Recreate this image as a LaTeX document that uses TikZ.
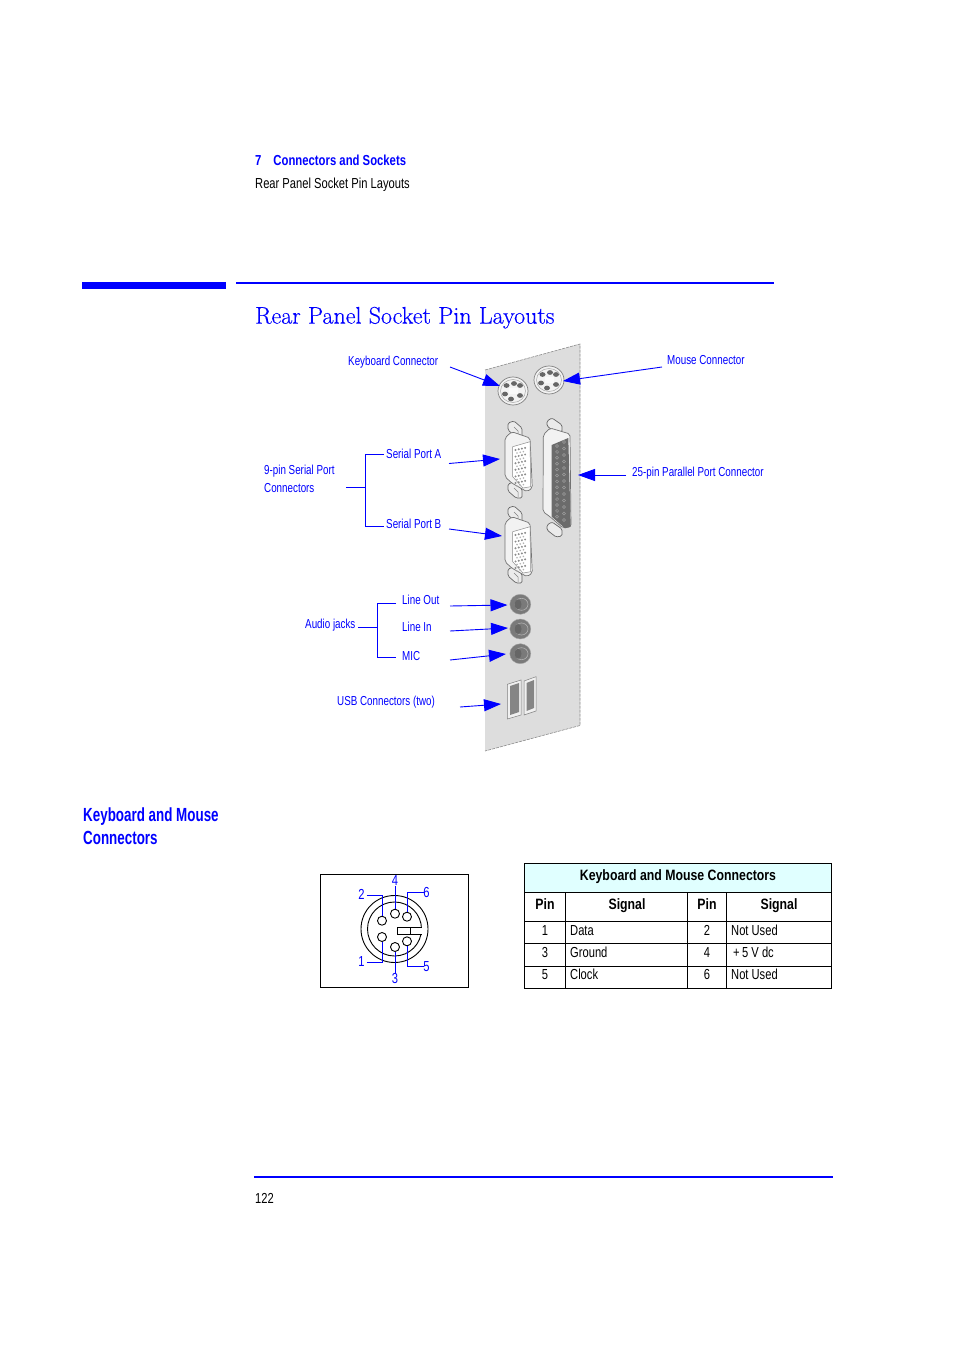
\documentclass[tikz,border=0pt]{standalone}
\usepackage{fontspec}
\setmainfont[FakeStretch=0.77]{Liberation Sans}
\newfontfamily\lblfont[FakeStretch=0.755]{Liberation Sans}
\newfontfamily\hdfont[FakeStretch=0.78]{Liberation Sans}
\newfontfamily\thfont[FakeStretch=0.82]{Liberation Sans}
\newfontfamily\secfont[FakeStretch=0.705]{Liberation Sans}
\newfontfamily\titlefont[FakeBold=0.35]{Latin Modern Roman}
\usetikzlibrary{arrows.meta,calc}
\definecolor{hpblue}{RGB}{0,0,255}
\definecolor{panelgray}{RGB}{221,221,221}
\definecolor{hdrcyan}{RGB}{224,255,255}
\tikzset{
  x=1pt,y=-1pt,
  fixh/.style={text height=0.72em,text depth=0.2em},
  lbl/.style={fixh,yshift=-1.6pt,anchor=west,inner sep=0pt,text=hpblue,font=\lblfont\fontsize{13}{15}\selectfont},
  body/.style={fixh,yshift=-2.8pt,anchor=west,inner sep=0pt,text=black,font=\fontsize{14.5}{17}\selectfont},
  tcell/.style={fixh,yshift=-2.5pt,anchor=center,inner sep=0pt,text=black,font=\fontsize{14.5}{17}\selectfont},
  tleft/.style={fixh,yshift=-2.5pt,anchor=west,inner sep=0pt,text=black,font=\fontsize{14.5}{17}\selectfont},
  thead/.style={fixh,yshift=-2.5pt,anchor=center,inner sep=0pt,text=black,font=\thfont\fontsize{15}{17}\selectfont\bfseries},
  blu/.style={draw=hpblue,line width=0.9pt},
  arr/.style={draw=hpblue,line width=0.9pt,-{Triangle[length=17pt,width=12pt,fill=hpblue]}},
  ruleline/.style={draw=black,line width=0.9pt},
  pinhole/.style={draw=black,line width=0.9pt,fill=white},
  pinno/.style={inner sep=0pt,text=hpblue,font=\fontsize{14.5}{17}\selectfont},
  sechead/.style={fixh,yshift=-4pt,anchor=west,inner sep=0pt,text=hpblue,font=\secfont\fontsize{19}{23}\selectfont\bfseries},
}
\begin{document}
\begin{tikzpicture}
\useasboundingbox (0,0) rectangle (954,1351);
\fill[white] (0,0) rectangle (954,1351);
% header
\node[body,text=hpblue,font=\hdfont\fontsize{14.5}{17}\selectfont\bfseries] (hdrA) at (255,160) {7\hspace{12pt}Connectors and Sockets};
\node[body] (hdrB) at (255,183) {Rear Panel Socket Pin Layouts};
\fill[hpblue] (82,282) rectangle (226,289);
\fill[hpblue] (236,282) rectangle (774,284);
\node[fixh,yshift=-5pt,anchor=west,inner sep=0pt,text=hpblue,font=\titlefont\fontsize{24}{28}\selectfont] (title) at (255,316) {Rear Panel Socket Pin Layouts};
% panel
\fill[panelgray] (485,370) -- (580,344) -- (580,725.5) -- (485,751) -- cycle;
\draw[black!45,line width=0.6pt,dash pattern=on 3pt off 1pt] (485,370) -- (580,344) -- (580,725.5) -- (485,751);
% PS/2 sockets
\foreach \cx/\cy in {513/391,549/380}{
  \begin{scope}[shift={(\cx,\cy)}]
    \fill[white!90!gray,draw=black!50,line width=0.7pt] (0,0) ellipse (15 and 14);
    \draw[black!35,line width=0.5pt] (0,0) ellipse (12.5 and 11.5);
    \foreach \a/\b in {-6.5/-5.5,1/-7.5,7/-5.5,-8/3,-2/8,7/4.5}{\fill[black!60] (\a,\b) ellipse (3 and 2.4);}
    \fill[white!95!gray] (-4.5,-3) rectangle (5,3);
  \end{scope}}
% serial
\foreach \dy in {0,85}{
  \begin{scope}[shift={(0,\dy)}]
    \foreach \sy in {0,61}{
      \draw[fill=black!8,draw=black!60,line width=0.7pt,rounded corners=1.5pt] (508,423+\sy) -- (514,421+\sy) -- (522,428+\sy) -- (522,437+\sy) -- (516,437+\sy) -- (508,430+\sy) -- cycle;
      \draw[black!50,line width=0.5pt] (514,427+\sy) -- (518,431+\sy) -- (518,436+\sy);}
    \draw[fill=black!5,draw=black!55,line width=0.7pt,rounded corners=2pt] (505,438) -- (511.7,431.7) -- (530,438) -- (532.3,488) -- (527,491.7) -- (511.7,483) -- (505,476.7) -- cycle;
    \draw[fill=white,draw=black!45,line width=0.5pt] (512.7,446.7) -- (530,441.7) -- (530.7,486.7) -- (523,488) -- (512.7,476.7) -- cycle;
    \foreach \i in {0,...,5}{
      \foreach \j in {0,1,2,3}{\fill[black!45] (515.5+3.2*\j,450+6.6*\i-0.7*\j) circle (1.1);}
      \foreach \j in {0,1,2}{\fill[black!30] (517+3.2*\j,453+6.6*\i-0.7*\j) circle (0.9);}}
  \end{scope}}
% parallel
\foreach \sy in {0,104}{
  \draw[fill=black!8,draw=black!60,line width=0.7pt,rounded corners=1.5pt] (547,421+\sy) -- (552,418+\sy) -- (562,425+\sy) -- (562,432+\sy) -- (556,433+\sy) -- (547,426+\sy) -- cycle;}
\draw[fill=black!5,draw=black!55,line width=0.7pt,rounded corners=2pt] (543.3,435) -- (550,428) -- (570,434) -- (571,526.7) -- (563,528) -- (550,516.7) -- (543,511.7) -- cycle;
\fill[black!58] (551.7,445) -- (568.3,438) -- (570.7,526.7) -- (565,528.3) -- (551.7,516.7) -- cycle;
\foreach \i in {0,...,12}{
  \draw[black!38,line width=0.5pt] (557,446+5.9*\i) circle (1.5);
  \draw[black!38,line width=0.5pt] (564,442+6.5*\i) circle (1.5);}
% jacks
\foreach \jy in {604.3,629,653.7}{
  \fill[black!52,draw=black!35,line width=0.4pt] (520.3,\jy) ellipse (10.5 and 10);
  \draw[black!30,line width=0.6pt] (521.5,\jy) ellipse (6.5 and 6);
  \fill[black!60] (518,\jy) ellipse (3.5 and 5);}
% usb
\draw[fill=black!6,draw=black!50,line width=0.5pt] (507.3,684.3) -- (521,680) -- (521,715) -- (507.3,719) -- cycle;
\fill[black!48] (510,686) -- (519,683) -- (519,712) -- (510,715) -- cycle;
\draw[fill=black!6,draw=black!50,line width=0.5pt] (524,681) -- (536,676.7) -- (536,711) -- (524,715) -- cycle;
\fill[black!48] (526.5,683) -- (534,680) -- (534,708) -- (526.5,711) -- cycle;
% labels
\node[lbl] (kbd) at (348,361) {Keyboard Connector};
\node[lbl] (mouse) at (667,360) {Mouse Connector};
\node[lbl] (ninea) at (264,470) {9-pin Serial Port};
\node[lbl] (nineb) at (264,488) {Connectors};
\node[lbl] (sera) at (386,454) {Serial Port A};
\node[lbl] (serb) at (386,524) {Serial Port B};
\node[lbl] (par) at (632,472) {25-pin Parallel Port Connector};
\node[lbl] (lo) at (402,600) {Line Out};
\node[lbl] (li) at (402,627) {Line In};
\node[lbl] (mic) at (402,656) {MIC};
\node[lbl] (audio) at (305,624) {Audio jacks};
\node[lbl] (usb) at (337,701) {USB Connectors (two)};
% arrows
\coordinate (k1) at (450,367); \coordinate (k2) at (500,386);
\coordinate (m1) at (662,367); \coordinate (m2) at (563,381);
\coordinate (a1) at (449,463.5); \coordinate (a2) at (500,459);
\coordinate (b1) at (449,529); \coordinate (b2) at (502,536);
\coordinate (p1) at (626,475); \coordinate (p2) at (578,475);
\coordinate (o1) at (450,606); \coordinate (o2) at (507.5,605);
\coordinate (i1) at (450,631); \coordinate (i2) at (508,628);
\coordinate (c1) at (450,660); \coordinate (c2) at (506,654);
\coordinate (u1) at (460,707); \coordinate (u2) at (501,704);
\foreach \s/\e in {k1/k2,m1/m2,a1/a2,b1/b2,p1/p2,o1/o2,i1/i2,c1/c2,u1/u2}{\draw[arr] (\s) -- (\e);}
% brackets
\coordinate (bn) at (346,487); \coordinate (bj) at (365,487);
\coordinate (bb) at (365,526); \coordinate (bt) at (384,454); \coordinate (be) at (384,526);
\draw[blu] (bn) -- (bj);
\draw[blu] (bt) -| (bb) -- (be);
\coordinate (an) at (358,627); \coordinate (aj) at (377,627);
\coordinate (ab) at (377,657); \coordinate (at) at (396,603); \coordinate (ae) at (396,657);
\draw[blu] (an) -- (aj);
\draw[blu] (at) -| (ab) -- (ae);
% section heading
\node[sechead] (secA) at (83,815) {Keyboard and Mouse};
\node[sechead] (secB) at (83,838) {Connectors};
% mini-din
\draw[ruleline] (320.5,874.5) rectangle (468.5,987.5);
\draw[black,line width=0.9pt] (394.5,929) circle (33.5);
\draw[black,line width=0.9pt] (394.5,929) circle (27);
\fill[white] (398,928) rectangle (421.5,934);
\draw[black,line width=0.9pt] (421.5,927.5) -- (397.5,927.5) -- (397.5,934.5) -- (421.5,934.5);
\draw[black,line width=0.9pt] (410,927.5) -- (410,934.5);
\node[pinhole,circle,minimum size=9pt,inner sep=0pt] (h1) at (382,937) {};
\node[pinhole,circle,minimum size=9pt,inner sep=0pt] (h2) at (382,920.7) {};
\node[pinhole,circle,minimum size=9pt,inner sep=0pt] (h3) at (395,947) {};
\node[pinhole,circle,minimum size=9pt,inner sep=0pt] (h4) at (395,913.7) {};
\node[pinhole,circle,minimum size=9pt,inner sep=0pt] (h5) at (407,941.3) {};
\node[pinhole,circle,minimum size=9pt,inner sep=0pt] (h6) at (407,916.7) {};
\node[pinno] (n2) at (361.5,894) {2};
\node[pinno] (n1) at (361.5,962) {1};
\node[pinno] (n4) at (395,881) {4};
\node[pinno] (n3) at (395,978) {3};
\node[pinno] (n6) at (426.5,892) {6};
\node[pinno] (n5) at (426.5,967) {5};
\draw[blu] (366.5,895.3) -| (h2.north);
\draw[blu] (366.5,962.3) -| (h1.south);
\draw[blu] (n4.south) -- (h4.north);
\draw[blu] (n3.north) -- (h3.south);
\draw[blu] (424,892.3) -| (h6.north);
\draw[blu] (424,966) -| (h5.south);
% table
\fill[hdrcyan] (524.5,863.5) rectangle (831.5,892);
\draw[ruleline] (524.5,863.5) rectangle (831.5,988.5);
\foreach \y in {892,921,943.5,966}{\draw[ruleline] (524.5,\y) -- (831.5,\y);}
\foreach \x in {565.5,687.5,726.5}{\draw[ruleline] (\x,892) -- (\x,988.5);}
\node[thead] (th) at (678,875) {Keyboard and Mouse Connectors};
\node[thead] (p1h) at (545,904) {Pin};
\node[thead] (s1h) at (627,904) {Signal};
\node[thead] (p2h) at (707,904) {Pin};
\node[thead] (s2h) at (779,904) {Signal};
\node[tcell] (c11) at (545,930) {1};
\node[tleft] (c12) at (570,930) {Data};
\node[tcell] (c13) at (707,930) {2};
\node[tleft] (c14) at (731,930) {Not Used};
\node[tcell] (c21) at (545,952) {3};
\node[tleft] (c22) at (570,952) {Ground};
\node[tcell] (c23) at (707,952) {4};
\node[tleft] (c24) at (733,952) {+\,5 V dc};
\node[tcell] (c31) at (545,974) {5};
\node[tleft] (c32) at (570,974) {Clock};
\node[tcell] (c33) at (707,974) {6};
\node[tleft] (c34) at (731,974) {Not Used};
% footer
\fill[hpblue] (254,1176) rectangle (833,1178);
\node[body] (pg) at (255,1198) {122};
\end{tikzpicture}
\end{document}
